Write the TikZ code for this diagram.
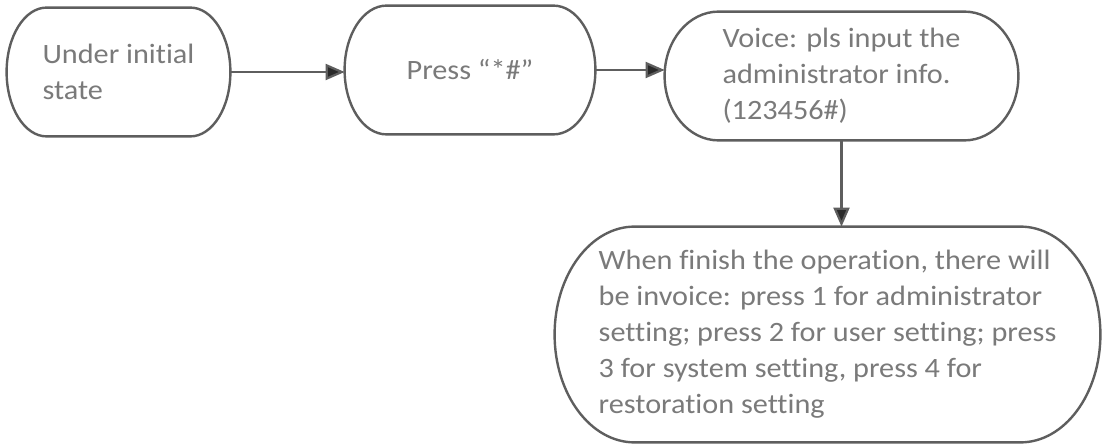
\documentclass[tikz,border=0pt]{standalone}
\usepackage{fontspec}
\setmainfont{Carlito}[FakeStretch=1.08,Ligatures=NoCommon]
\usetikzlibrary{arrows.meta,calc}
\definecolor{txt}{HTML}{7A7A7A}
\definecolor{edge}{HTML}{5E5E5E}
\definecolor{tipc}{HTML}{2A2A2A}
\newcommand\termoutline[2]{%
  \draw[outline] let \p1=(#1.north west), \p2=(#1.south east), \n1={(\y1-\y2)/2} in
    (\x1+#2,\y1) -- (\x2-#2,\y1)
    arc[start angle=90,end angle=-90,x radius=#2,y radius={\n1*1pt}]
    -- (\x1+#2,\y2)
    arc[start angle=270,end angle=90,x radius=#2,y radius={\n1*1pt}] -- cycle;}
\begin{document}
\begin{tikzpicture}[x=0.5pt,y=-0.5pt,
  term/.style={draw=none, inner sep=0pt, text=txt, align=left,
    font=\fontsize{14}{18}\selectfont},
  outline/.style={draw=edge, line width=1.2pt},
  flow/.style={draw=edge, line width=1.1pt,
    -{Triangle[length=9.5pt,width=8pt,fill=tipc]}}]
\fill[white] (0,0) rectangle (1104,448);
\useasboundingbox (0,0) rectangle (1104,448);

\node[term, minimum width=111.5pt, minimum height=64pt] (A) at (118.5,72)
  {Under initial\\state};
\node[term, minimum width=125pt, minimum height=64pt] (B) at (470,70)
  {Press “*\#”};
\node[term, minimum width=176.5pt, minimum height=64pt] (C) at (841.5,76)
  {Voice: pls input the\\administrator info.\\(123456\#)};
\node[term, minimum width=272.5pt, minimum height=107.5pt] (D) at (827.5,334.5)
  {When finish the operation, there will\\
   be invoice: press 1 for administrator\\
   setting; press 2 for user setting; press\\
   3 for system setting, press 4 for\\
   restoration setting};

\termoutline{A}{20pt}
\termoutline{B}{21pt}
\termoutline{C}{27pt}
\termoutline{D}{40pt}

\draw[flow] (A.east) -- (A.east -| B.west);
\draw[flow] (B.east) -- (B.east -| C.west);
\draw[flow] (C.south) -- (C.south |- D.north);
\end{tikzpicture}
\end{document}
